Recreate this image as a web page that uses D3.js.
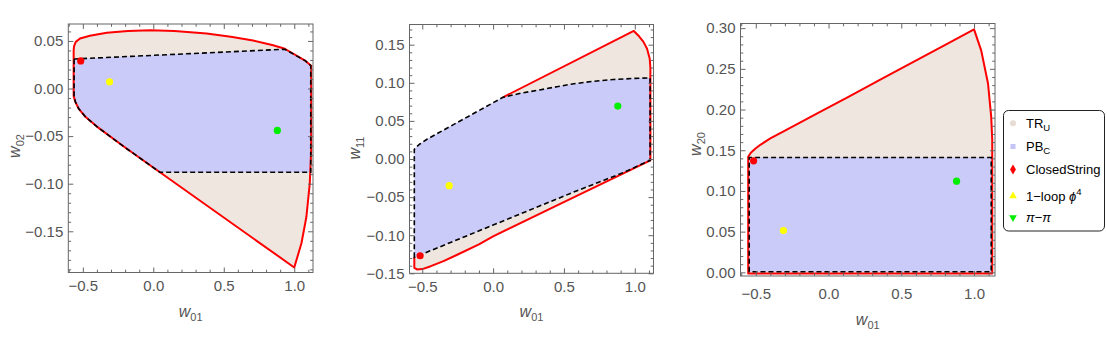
<!DOCTYPE html>
<html><head><meta charset="utf-8">
<script src="https://cdn.jsdelivr.net/npm/d3@7"></script>
<style>
body{margin:0;background:#fff}
svg{display:block}
text{font-family:"Liberation Sans",Arial,sans-serif}
</style>
</head><body>
<svg id="chart" width="1107" height="346"></svg>
<script>
// ---------------- DATA ----------------
const xMajorTicks = [-0.5, 0.0, 0.5, 1.0];
const p1YTicks = [-0.15, -0.10, -0.05, 0.00, 0.05];
const p2YTicks = [-0.15, -0.10, -0.05, 0.00, 0.05, 0.10, 0.15];
const p3YTicks = [0.00, 0.05, 0.10, 0.15, 0.20, 0.25, 0.30];

// Panel 1 : w01 vs w02
const p1TR = [[-0.565,-0.008],[-0.565,0.040],[-0.562,0.0445],[-0.55,0.049],[-0.52,0.0525],[-0.45,0.0555],
  [-0.33,0.0585],[-0.18,0.0605],[-0.02,0.0613],[0.15,0.0605],[0.378,0.0578],[0.55,0.0545],[0.708,0.0505],
  [0.85,0.0455],[0.933,0.0418],[1.08,0.029],[1.12,0.024],[1.12,-0.065],[1.11,-0.100],[1.086,-0.135],
  [1.051,-0.1626],[1.0,-0.188],[0.047,-0.088],[-0.2,-0.062],[-0.4,-0.040],[-0.48,-0.030],[-0.53,-0.021],
  [-0.553,-0.014],[-0.565,-0.008]];
const p1PB = [[-0.562,0.031],[0.933,0.0413],[1.08,0.029],[1.117,0.024],[1.117,-0.088],[0.047,-0.088],
  [-0.2,-0.062],[-0.4,-0.040],[-0.48,-0.030],[-0.53,-0.021],[-0.553,-0.014],[-0.562,-0.008]];

// Panel 2 : w01 vs w11
const p2TR = [[-0.556,-0.129],[-0.556,-0.143],[-0.535,-0.145],[-0.5,-0.1445],[-0.444,-0.141],[-0.35,-0.134],
  [-0.257,-0.126],[-0.1,-0.112],[0.0,-0.1016],[0.561,-0.051],[1.11,-0.0018],[1.11,0.12],[1.105,0.132],
  [1.086,0.145],[1.06,0.154],[1.03,0.161],[0.993,0.168],[0.07,0.081]];
const p2PB = [[-0.556,-0.129],[-0.556,0.0128],[-0.54,0.016],[-0.514,0.020],[-0.467,0.0259],[0.07,0.081],
  [0.2,0.0865],[0.327,0.0906],[0.45,0.0948],[0.561,0.0985],[0.7,0.1018],[0.85,0.1043],[1.0,0.1058],
  [1.108,0.1064],[1.108,-0.0018],[0.911,-0.0185],[0.561,-0.044],[0.0,-0.0867]];

// Panel 3 : w01 vs w20
const p3TR = [[-0.552,-0.0015],[-0.552,0.142],[-0.534,0.147],[-0.5,0.1525],[-0.466,0.157],[-0.4,0.1645],
  [-0.309,0.1733],[-0.084,0.1948],[0.14,0.216],[0.365,0.2378],[0.59,0.2593],[0.815,0.2808],[1.0,0.2985],
  [1.05,0.272],[1.096,0.232],[1.118,0.191],[1.125,0.163],[1.125,-0.0015]];
const p3PB = [[-0.545,0.0008],[-0.545,0.141],[1.118,0.141],[1.118,0.0008]];

// Sample points: [w01, w02, w11, w20]
const closedString = [-0.515, 0.029, -0.127, 0.137];
const oneLoopPhi4  = [-0.31, 0.007, -0.035, 0.0513];
const piPi         = [0.88, -0.044, 0.0695, 0.112];

const legendLabels = ["TR", "PB", "ClosedString", "1\u2212loop ", "\u03C0\u2212\u03C0"];

// ---------------- STYLE ----------------
const trFill = "#eee6df", pbFill = "#cbcbf9";
const frameCol = "#666", textCol = "#555";
const svg = d3.select("#chart");

function drawPanel(P) {
  const g = svg.append("g");
  const x = d3.scaleLinear().domain(P.xDom).range([P.L, P.R]);
  const y = d3.scaleLinear().domain(P.yDom).range([P.B, P.T]);
  const line = d3.line().x(d => x(d[0])).y(d => y(d[1]));

  g.append("path").attr("d", line(P.tr) + "Z").attr("fill", trFill).attr("stroke", "none");
  g.append("path").attr("d", line(P.pb) + "Z").attr("fill", pbFill).attr("stroke", "none");
  g.append("path").attr("d", line(P.tr) + (P.trClosed ? "Z" : ""))
    .attr("fill", "none").attr("stroke", "#f00").attr("stroke-width", 2).attr("stroke-linejoin", "round");
  g.append("path").attr("d", line(P.pb) + "Z")
    .attr("fill", "none").attr("stroke", "#000").attr("stroke-width", 1.6).attr("stroke-dasharray", "5,3");

  // points
  const pts = [[closedString, "#f00"], [oneLoopPhi4, "#ffff00"], [piPi, "#00ee00"]];
  pts.forEach(([p, c]) => {
    g.append("circle").attr("cx", x(p[0])).attr("cy", y(p[P.yi])).attr("r", 3.6).attr("fill", c);
  });

  // axes
  const xMinor = d3.range(-6, 12).map(i => i / 10).filter(v => v >= P.xDom[0] && v <= P.xDom[1] && !xMajorTicks.some(m => Math.abs(m - v) < 1e-9));
  const yMinor = d3.range(Math.ceil(P.yDom[0] * 100), Math.floor(P.yDom[1] * 100) + 1).map(i => i / 100)
    .filter(v => !P.yTicks.some(m => Math.abs(m - v) < 1e-9));

  const mk = (axis, vals, size, fmt, pad) => axis.tickValues(vals).tickSize(size).tickPadding(pad || 0).tickFormat(fmt || "");
  const addAxis = (ax, tr) => {
    const a = g.append("g").attr("transform", tr).call(ax);
    a.select(".domain").remove();
    a.selectAll("line").attr("stroke", frameCol);
    a.selectAll("text").attr("fill", textCol).style("font-size", "15px").style("font-family", '"Liberation Sans",Arial,sans-serif');
    return a;
  };
  addAxis(mk(d3.axisBottom(x), xMajorTicks, -5, d3.format(".1f"), P.xPad), `translate(0,${P.B})`);
  addAxis(mk(d3.axisBottom(x), xMinor, -2.8), `translate(0,${P.B})`);
  addAxis(mk(d3.axisTop(x), xMajorTicks, -5), `translate(0,${P.T})`);
  addAxis(mk(d3.axisTop(x), xMinor, -2.8), `translate(0,${P.T})`);
  addAxis(mk(d3.axisLeft(y), P.yTicks, -5, d3.format(".2f"), 5), `translate(${P.L},0)`);
  addAxis(mk(d3.axisLeft(y), yMinor, -2.8), `translate(${P.L},0)`);
  addAxis(mk(d3.axisRight(y), P.yTicks, -5), `translate(${P.R},0)`);
  addAxis(mk(d3.axisRight(y), yMinor, -2.8), `translate(${P.R},0)`);

  g.append("rect").attr("x", P.L).attr("y", P.T).attr("width", P.R - P.L).attr("height", P.B - P.T)
    .attr("fill", "none").attr("stroke", frameCol).attr("stroke-width", 1);

  // axis titles
  const xt = g.append("text").attr("x", (P.L + P.R) / 2).attr("y", P.xTitleY).attr("text-anchor", "middle").attr("fill", textCol);
  xt.append("tspan").text("w").style("font-style", "italic").style("font-size", "16px");
  xt.append("tspan").text("01").attr("dy", 4).style("font-size", "11px");
  const yt = g.append("text").attr("transform", `translate(${P.yTitleX},${P.yTitleY}) rotate(-90)`)
    .attr("text-anchor", "middle").attr("dy", "0.35em").attr("fill", textCol);
  yt.append("tspan").text("w").style("font-style", "italic").style("font-size", "16px");
  yt.append("tspan").text(P.yName).attr("dy", 4).style("font-size", "11px");
}

drawPanel({L: 68.3, R: 313, T: 24, B: 272.5, xDom: [-0.603, 1.133], yDom: [-0.1933, 0.0678],
  yTicks: p1YTicks, tr: p1TR, pb: p1PB, trClosed: true, yi: 1, yName: "02",
  xPad: 8, xTitleY: 317, yTitleX: 14, yTitleY: 146});
drawPanel({L: 409.5, R: 653.5, T: 24.5, B: 273.3, xDom: [-0.590, 1.132], yDom: [-0.150, 0.1765],
  yTicks: p2YTicks, tr: p2TR, pb: p2PB, trClosed: false, yi: 2, yName: "11",
  xPad: 8, xTitleY: 317, yTitleX: 354, yTitleY: 148});
drawPanel({L: 740.5, R: 995, T: 23.5, B: 276, xDom: [-0.605, 1.144], yDom: [-0.0045, 0.3057],
  yTicks: p3YTicks, tr: p3TR, pb: p3PB, trClosed: true, yi: 3, yName: "20",
  xPad: 12, xTitleY: 325, yTitleX: 695, yTitleY: 144});

// ---------------- LEGEND ----------------
const lg = svg.append("g");
lg.append("rect").attr("x", 1003.5).attr("y", 110.5).attr("width", 101).attr("height", 120.5)
  .attr("rx", 5).attr("fill", "#fff").attr("stroke", "#222").attr("stroke-width", 1);
const rowsY = [123.3, 146.5, 169.5, 196, 217.5];
const mx = 1013;
lg.append("circle").attr("cx", mx).attr("cy", rowsY[0]).attr("r", 3).attr("fill", "#e6dcd4");
lg.append("rect").attr("x", mx - 2.5).attr("y", rowsY[1] - 2.5).attr("width", 5).attr("height", 5).attr("fill", "#c4c4f6");
lg.append("path").attr("transform", `translate(${mx},${rowsY[2]})`).attr("d", d3.symbol(d3.symbolDiamond, 30)()).attr("fill", "#f00");
lg.append("path").attr("transform", `translate(${mx},${rowsY[3]})`).attr("d", d3.symbol(d3.symbolTriangle, 26)()).attr("fill", "#ffff00");
lg.append("path").attr("transform", `translate(${mx},${rowsY[4]}) rotate(180)`).attr("d", d3.symbol(d3.symbolTriangle, 26)()).attr("fill", "#00ee00");

const tx = 1026;
const t0 = lg.append("text").attr("x", tx).attr("y", rowsY[0] + 4.5).style("font-size", "13px");
t0.append("tspan").text(legendLabels[0]);
t0.append("tspan").text("U").attr("dy", 3).style("font-size", "9.5px");
const t1 = lg.append("text").attr("x", tx).attr("y", rowsY[1] + 4.5).style("font-size", "13px");
t1.append("tspan").text(legendLabels[1]);
t1.append("tspan").text("C").attr("dy", 3).style("font-size", "9.5px");
lg.append("text").attr("x", tx).attr("y", rowsY[2] + 4.5).style("font-size", "13px").text(legendLabels[2]);
const t3 = lg.append("text").attr("x", tx).attr("y", rowsY[3] + 4.5).style("font-size", "13px");
t3.append("tspan").text(legendLabels[3]);
t3.append("tspan").text("\u03D5").style("font-style", "italic");
t3.append("tspan").text("4").attr("dy", -6).style("font-size", "9.5px");
const t4 = lg.append("text").attr("x", tx).attr("y", rowsY[4] + 4.5).style("font-size", "13px");
t4.append("tspan").text("\u03C0").style("font-style", "italic");
t4.append("tspan").text("\u2212");
t4.append("tspan").text("\u03C0").style("font-style", "italic");
</script>
</body></html>
